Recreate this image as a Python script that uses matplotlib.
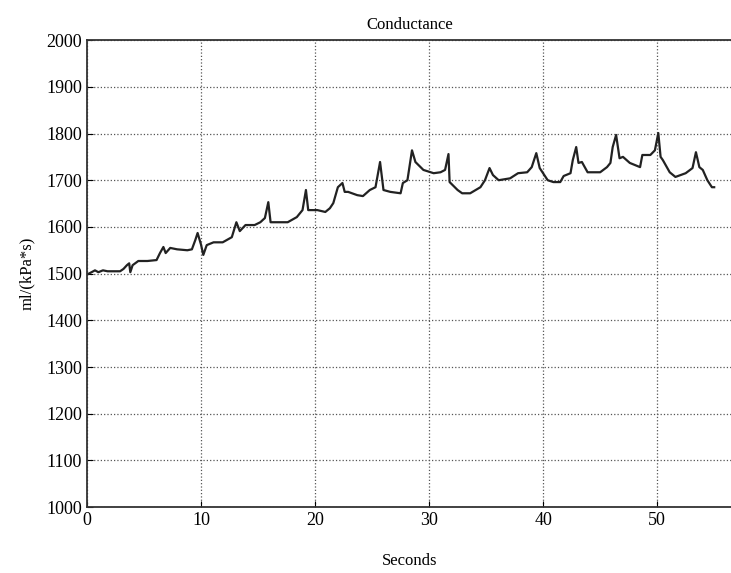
import numpy as np
import matplotlib.pyplot as plt

plt.rcParams['font.family'] = ['Liberation Serif', 'DejaVu Serif']

# time (s) and conductance (ml/(kPa*s))
t = [0.0, 0.4, 0.7, 1.0, 1.4, 1.8, 2.9, 3.2, 3.5, 3.7, 3.8, 4.0, 4.5, 5.3, 6.1,
     6.4, 6.7, 6.9, 7.3, 7.9, 8.8, 9.2, 9.5, 9.7, 10.0, 10.2, 10.5, 11.1, 11.9,
     12.7, 13.1, 13.4, 13.9, 14.7, 15.2, 15.6, 15.9, 16.1, 16.9, 17.6, 18.4,
     18.9, 19.2, 19.4, 20.2, 20.9, 21.3, 21.6, 22.0, 22.4, 22.6, 22.9, 23.7,
     24.2, 24.8, 25.3, 25.7, 26.0, 26.6, 27.5, 27.7, 28.1, 28.5, 28.8, 29.5,
     30.4, 31.0, 31.4, 31.7, 31.8, 32.5, 32.9, 33.6, 34.5, 34.9, 35.3, 35.6,
     36.1, 37.1, 37.8, 38.6, 39.0, 39.4, 39.7, 40.4, 40.9, 41.5, 41.8, 42.4,
     42.6, 42.9, 43.1, 43.4, 43.9, 45.0, 45.6, 45.9, 46.1, 46.4, 46.7, 47.0,
     47.6, 48.5, 48.7, 49.4, 49.8, 50.1, 50.3, 50.5, 51.1, 51.6, 52.5, 53.1,
     53.4, 53.7, 54.0, 54.4, 54.8, 55.0]
g = [1498, 1503, 1507, 1503, 1507, 1505, 1505, 1510, 1518, 1522, 1503, 1518,
     1527, 1527, 1529, 1544, 1557, 1544, 1555, 1552, 1550, 1552, 1572, 1587,
     1562, 1540, 1561, 1567, 1567, 1578, 1610, 1591, 1604, 1604, 1610, 1619,
     1653, 1610, 1610, 1610, 1621, 1636, 1679, 1636, 1636, 1632, 1640, 1651,
     1685, 1694, 1675, 1675, 1668, 1666, 1679, 1685, 1739, 1679, 1675, 1672,
     1694, 1700, 1764, 1739, 1722, 1715, 1717, 1722, 1756, 1696, 1679, 1672,
     1672, 1685, 1700, 1726, 1711, 1700, 1704, 1715, 1717, 1728, 1758, 1726,
     1700, 1696, 1696, 1709, 1715, 1743, 1771, 1737, 1739, 1717, 1717, 1728,
     1737, 1771, 1797, 1747, 1750, 1737, 1728, 1754, 1754, 1764, 1801, 1750,
     1743, 1717, 1707, 1715, 1726, 1760, 1728, 1722, 1700, 1685, 1685]

fig = plt.figure(figsize=(7.31, 5.73), dpi=100)
ax = fig.add_axes([0.119, 0.115, 0.936, 0.815])

ax.plot(t, g, color='#222222', linewidth=1.6)

ax.set_xlim(0, 60)
ax.set_ylim(1000, 2000)
ax.set_xticks(np.arange(0, 60, 10))
ax.set_yticks(np.arange(1000, 2001, 100))
ax.grid(True, color='#555555', linestyle=':', linewidth=0.9)
ax.tick_params(direction='in', labelsize=13, length=4)
for s in ax.spines.values():
    s.set_linewidth(1.3)
    s.set_color('#333333')

# the frame runs past the right edge, so centre the texts by hand
ax.set_title('Conductance', fontsize=12, pad=8, x=0.472)
ax.set_xlabel('Seconds', fontsize=12)
ax.xaxis.set_label_coords(0.472, -0.098)
ax.set_ylabel('ml/(kPa*s)', fontsize=12, labelpad=8)

fig.savefig('out.png', dpi=100)
